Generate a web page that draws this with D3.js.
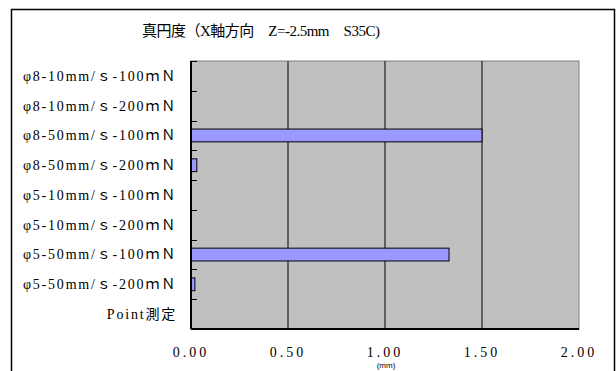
<!DOCTYPE html>
<html>
	<head>
		<meta charset="utf-8" />
		<title>真円度</title>
		<script src="https://d3js.org/d3.v7.min.js"></script>
		<style>
			body { margin: 0; background: #fff; }
			text { font-family: "Liberation Serif", "Noto Sans CJK JP", serif; fill: #000; }
		</style>
	</head>
	<body>
		<svg width="616" height="371"></svg>
		<script>
			// data
			const categories = [
				"φ8-10mm/ｓ-100ｍＮ",
				"φ8-10mm/ｓ-200ｍＮ",
				"φ8-50mm/ｓ-100ｍＮ",
				"φ8-50mm/ｓ-200ｍＮ",
				"φ5-10mm/ｓ-100ｍＮ",
				"φ5-10mm/ｓ-200ｍＮ",
				"φ5-50mm/ｓ-100ｍＮ",
				"φ5-50mm/ｓ-200ｍＮ",
				"Point測定"
			];
			const values = [0, 0, 1.50, 0.03, 0, 0, 1.33, 0.02, 0];
			const xTicks = [0, 0.5, 1.0, 1.5, 2.0];
			const title = "真円度（X軸方向　Z=-2.5mm　S35C)";
			const unit = "(mm)";

			const svg = d3.select("svg");
			const plot = { left: 191, top: 61, right: 579, bottom: 329 };

			// outer chart border
			svg.append("rect")
				.attr("x", 11.5).attr("y", 9.5)
				.attr("width", 603).attr("height", 380)
				.style("fill", "#fff")
				.style("stroke", "#000")
				.style("stroke-width", 1.5);

			const x = d3.scaleLinear().domain([0, 2]).range([plot.left, plot.right]);
			const y = d3.scaleBand().domain(categories).range([plot.top, plot.bottom]).paddingInner(0.57).paddingOuter(0.285);
			const yStep = d3.scaleBand().domain(categories).range([plot.top, plot.bottom]);

			// plot area
			svg.append("rect")
				.attr("x", plot.left).attr("y", plot.top)
				.attr("width", plot.right - plot.left).attr("height", plot.bottom - plot.top)
				.style("fill", "#c0c0c0")
				.style("stroke", "#808080")
				.style("stroke-width", 1);

			// vertical gridlines
			svg.append("g")
				.selectAll("line")
				.data(xTicks.slice(1, -1))
				.enter()
				.append("line")
				.attr("x1", (d) => x(d)).attr("x2", (d) => x(d))
				.attr("y1", plot.top).attr("y2", plot.bottom)
				.style("stroke", "#000")
				.style("stroke-width", 1);

			// bars
			svg.append("g")
				.selectAll("rect")
				.data(values.map((v, i) => ({ c: categories[i], v })).filter((d) => d.v > 0))
				.enter()
				.append("rect")
				.attr("x", x(0))
				.attr("y", (d) => y(d.c))
				.attr("width", (d) => x(d.v) - x(0))
				.attr("height", y.bandwidth())
				.style("fill", "#9999ff")
				.style("stroke", "#000")
				.style("stroke-width", 1);

			// left axis with inward ticks
			const yAxis = svg.append("g");
			yAxis.append("line")
				.attr("x1", plot.left).attr("x2", plot.left)
				.attr("y1", plot.top).attr("y2", plot.bottom)
				.style("stroke", "#000").style("stroke-width", 2);
			yAxis.selectAll("line.tick")
				.data(categories)
				.enter()
				.append("line")
				.attr("class", "tick")
				.attr("x1", plot.left).attr("x2", plot.left + 6)
				.attr("y1", (d) => Math.round(yStep(d)) + 0.5)
				.attr("y2", (d) => Math.round(yStep(d)) + 0.5)
				.style("stroke", "#000");
			yAxis.selectAll("text")
				.data(categories)
				.enter()
				.append("text")
				.attr("x", 177)
				.attr("y", (d) => yStep(d) + yStep.bandwidth() / 2)
				.attr("dy", "0.35em")
				.style("text-anchor", "end")
				.style("font-size", "14px")
				.style("letter-spacing", "1.8px")
				.text((d) => d);

			// bottom axis
			svg.append("line")
				.attr("x1", plot.left).attr("x2", plot.right)
				.attr("y1", plot.bottom).attr("y2", plot.bottom)
				.style("stroke", "#000").style("stroke-width", 2);
			svg.append("g")
				.selectAll("text")
				.data(xTicks)
				.enter()
				.append("text")
				.attr("x", (d) => x(d))
				.attr("y", 357)
				.style("text-anchor", "middle")
				.style("font-size", "14px")
				.style("letter-spacing", "3px")
				.text((d) => d3.format(".2f")(d));

			svg.append("text")
				.attr("x", x(1) + 1)
				.attr("y", 368)
				.style("text-anchor", "middle")
				.style("font-family", "Liberation Sans, sans-serif")
				.style("font-size", "8px")
				.text(unit);

			// title
			svg.append("text")
				.attr("x", 142)
				.attr("y", 36)
				.style("font-size", "15px")
				.style("letter-spacing", "-0.5px")
				.text(title);
		</script>
	</body>
</html>
